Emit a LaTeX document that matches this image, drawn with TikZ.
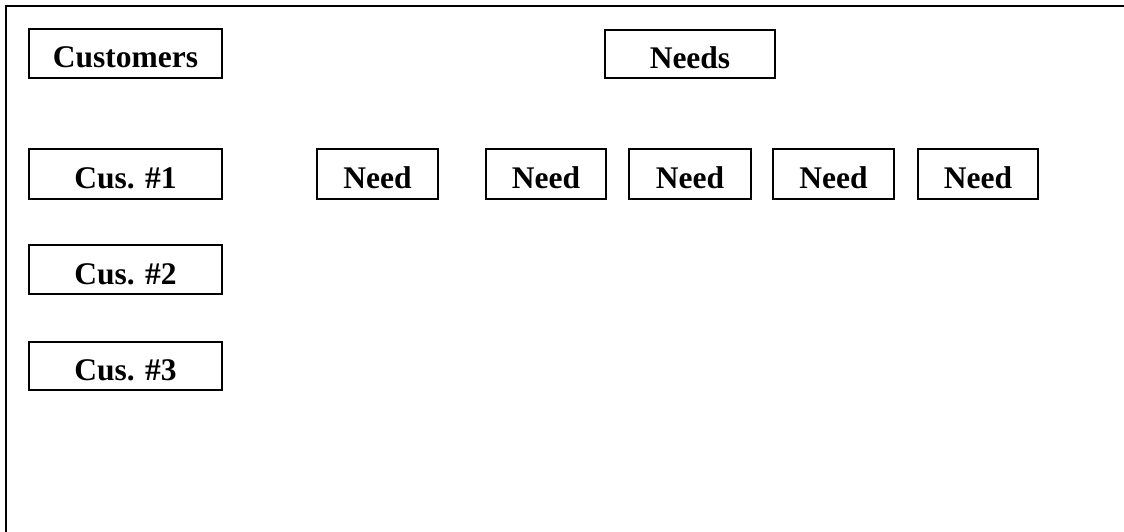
\documentclass[tikz,border=0pt]{standalone}
\usepackage{fontspec}
\setmainfont{Liberation Serif}
\begin{document}
\begin{tikzpicture}[x=1pt,y=-1pt,
  box/.style={draw=black, line width=2.8pt, inner sep=0pt, outer sep=0pt,
    text height=29pt, text depth=0pt,
    font=\fontsize{31.5}{34}\selectfont\bfseries},
  cbox/.style={box, minimum width=193pt, minimum height=49pt},
  nbox/.style={box, minimum width=121pt, minimum height=50pt},
  frame/.style={line width=2.8pt, line cap=rect}]
\useasboundingbox (0,0) rectangle (1124,532);
\fill[white] (0,0) rectangle (1124,532);
% frame (top and left edges)
\coordinate (fl) at (6,532);
\coordinate (fc) at (6,6);
\coordinate (fr) at (1124,6);
\draw[frame] (fl) -- (fc) -- (fr);
% headings
\node[cbox] (customers) at (125.5,53.5) {Customers};
\node[box, minimum width=170pt, minimum height=48pt] (needs) at (690,54) {Needs};
% customers
\node[cbox, minimum height=50pt] (cus1) at (125.5,174) {Cus. \#1};
\node[cbox] (cus2) at (125.5,269.5) {Cus. \#2};
\node[cbox, minimum height=48pt] (cus3) at (125.5,366) {Cus. \#3};
% needs
\node[nbox] (need1) at (377.5,174) {Need};
\node[nbox, minimum width=120pt] (need2) at (546,174) {Need};
\node[nbox, minimum width=122pt] (need3) at (690,174) {Need};
\node[nbox] (need4) at (833.5,174) {Need};
\node[nbox, minimum width=120pt] (need5) at (978,174) {Need};
\end{tikzpicture}
\end{document}
